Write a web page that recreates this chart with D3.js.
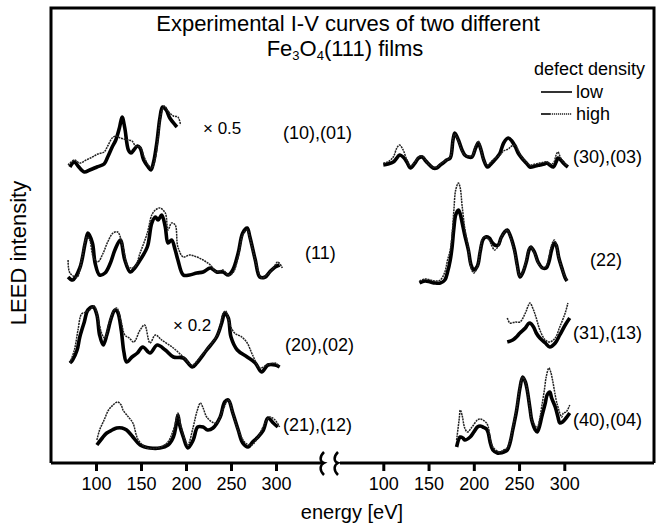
<!DOCTYPE html>
<html>
<head>
<meta charset="utf-8">
<script src="https://cdn.jsdelivr.net/npm/d3@7"></script>
<style>
  body { margin: 0; background: #fff; }
  text { font-family: "Liberation Sans", Arial, sans-serif; fill: #000; }
</style>
</head>
<body>
<svg id="chart" width="657" height="527"></svg>
<script>
// energies (eV) and intensities (arb. units)
// left column
const e10Low = [71,76,80,87,93,101,109,113,118,122,126,129,132,136,139,142,146,149,153,158,161,164,168,171,174,178,182,188,190];
const i10Low = [8,13,9,3,5,8,11,18,28,35,47,58,47,25,22,25,29,27,15,8,5,13,35,57,68,65,57,50,48];
const e10High = [69,76,82,89,96,102,109,113,118,122,127,131,136,140,144,149,153,158,162,166,169,172,176,180,186,191,194];
const i10High = [10,15,12,15,18,21,23,29,37,39,37,36,35,34,29,28,19,10,7,17,37,60,69,64,59,58,50];

const e11Low = [69,74,82,88,91,96,99,104,110,116,121,127,132,138,143,149,157,162,166,169,173,177,180,184,188,191,197,204,212,219,227,234,241,247,252,258,263,268,271,277,282,288,293,299,304];
const i11Low = [5,2,14,39,49,39,19,7,9,19,32,42,22,10,14,22,35,59,65,62,67,55,39,42,32,22,7,7,9,10,14,10,10,7,12,29,49,54,45,22,5,5,10,15,17];
const e11High = [69,71,79,84,90,93,97,102,108,113,119,124,130,136,143,149,157,162,166,171,177,180,184,188,191,197,204,212,219,227,234,241,247,252,258,263,268,271,279,284,290,297,302,307];
const i11High = [22,9,5,22,45,42,25,20,29,40,49,50,35,15,15,29,49,67,72,74,69,52,59,57,35,25,27,25,22,17,10,12,7,9,25,47,52,44,15,4,7,14,20,14];

const e20Low = [71,74,79,82,87,91,97,101,104,108,112,117,121,124,128,131,134,140,146,152,160,168,177,186,197,207,212,223,234,240,243,247,250,257,268,277,284,291,299,304];
const i20Low = [9,12,22,35,50,62,65,57,37,27,37,54,62,60,42,20,10,15,19,25,19,27,22,15,14,5,9,22,35,50,59,54,35,22,15,9,0,7,7,5];
const e20High = [71,76,80,84,89,93,98,102,107,110,114,119,123,128,132,137,142,149,154,160,166,173,186,197,207,216,227,236,241,244,249,254,262,268,274,282,290,299,304];
const i20High = [9,22,42,58,60,62,66,54,37,34,47,60,64,50,37,34,30,42,47,29,37,32,24,15,7,15,27,39,58,61,47,39,35,29,17,4,7,9,5];

const e21Low = [101,107,112,118,123,129,134,141,149,160,171,180,186,189,191,193,197,202,208,213,219,224,230,238,243,247,252,258,263,269,274,280,286,291,297,302];
const i21Low = [5,12,17,20,22,22,20,13,5,2,2,5,13,25,35,25,13,2,10,23,23,20,22,33,48,50,37,20,7,3,8,13,20,32,27,23];
const e21High = [101,104,109,114,119,124,128,130,136,141,147,157,168,179,186,189,191,194,199,202,208,212,216,219,223,229,234,241,247,252,258,266,273,280,288,293,299,304];
const i21High = [10,20,30,40,45,48,45,40,33,27,10,2,2,7,20,30,37,25,10,5,23,38,47,42,33,28,27,40,50,37,20,7,5,13,27,33,30,23];

// right column
const e30Low = [100,105,111,115,118,123,126,130,135,139,143,146,149,155,159,163,166,170,174,177,179,183,187,190,194,198,202,205,208,211,215,218,221,226,229,233,238,242,246,249,253,258,262,268,273,278,281,284,288,291,293,296,300,304];
const i30Low = [5,6,8,12,15,12,8,2,7,12,13,10,7,2,2,5,7,10,12,30,37,30,20,15,13,13,22,27,20,10,3,5,8,13,17,27,32,29,23,17,12,7,3,4,5,6,7,5,3,8,12,10,6,3];
const e30High = [100,105,111,115,118,122,126,130,135,139,143,146,149,155,159,163,166,170,174,177,179,183,187,190,194,198,202,205,208,211,215,218,221,226,229,233,238,242,246,249,253,258,262,268,273,278,281,284,288,291,293,296,300,304];
const i30High = [7,8,13,22,25,20,10,4,8,13,14,11,7,3,3,6,8,10,13,31,36,29,19,15,14,14,24,29,20,10,5,7,10,13,15,19,21,24,25,20,13,8,5,6,7,8,8,6,7,15,18,12,7,4];

const e22Low = [140,146,152,157,163,168,171,174,176,178,180,183,185,187,190,194,197,200,204,207,210,213,217,220,223,227,230,234,237,240,245,248,251,254,258,261,263,267,271,276,280,283,286,289,291,294,298,301,303];
const i22Low = [2,4,3,2,2,5,13,25,38,57,70,75,71,63,50,35,20,15,19,33,45,48,47,43,40,40,47,53,55,50,35,20,8,12,23,35,38,33,23,17,17,23,35,42,40,27,15,7,4];
const e22High = [140,146,152,157,163,168,171,174,176,178,180,183,185,187,190,194,197,200,204,207,210,213,217,220,223,227,230,234,237,240,245,248,251,254,258,261,263,267,271,276,280,283,286,289,291,294,298,301,303];
const i22High = [4,6,5,4,5,13,25,35,50,75,95,102,97,80,57,37,17,12,18,35,47,48,45,39,35,39,47,53,55,49,33,18,9,13,25,36,38,32,22,17,19,28,40,45,41,27,15,8,5];

const e31Low = [237,243,247,251,257,260,262,266,269,273,279,284,290,295,301,306];
const i31Low = [8,10,13,17,22,26,27,23,17,12,7,3,7,15,25,32];
const e31High = [237,240,246,251,257,260,262,266,269,273,279,284,290,295,301,304];
const i31High = [32,27,28,28,37,44,47,40,32,20,10,8,12,23,37,47];

const e40Low = [181,185,188,190,196,200,204,207,210,214,216,218,221,226,229,233,237,240,243,247,249,251,254,257,259,262,264,268,270,273,275,279,281,284,286,290,293,295,298,302,306];
const i40Low = [8,18,17,15,18,23,28,29,28,26,22,13,5,2,2,3,5,12,25,43,55,67,78,73,65,47,35,25,23,30,38,52,60,63,57,48,38,32,33,37,42];
const e40High = [181,184,185,187,190,193,198,204,207,210,214,216,218,221,226,229,233,237,240,243,247,249,251,254,257,259,262,264,268,270,273,275,278,280,283,285,287,291,293,297,299,302,306];
const i40High = [15,37,45,40,27,23,28,35,36,35,32,28,17,8,4,3,5,7,14,27,45,57,68,78,73,65,47,35,29,27,37,48,65,78,87,83,75,55,48,38,42,43,50];

const labels = ["(10),(01)", "(11)", "(20),(02)", "(21),(12)", "(30),(03)", "(22)", "(31),(13)", "(40),(04)"];
const offsets = [288, 181, 91, 13, 293, 178, 113, 8];
const tickValues = [100, 150, 200, 250, 300];

const svg = d3.select("#chart");

const xLeft = d3.scaleLinear().domain([100, 300]).range([96, 276]);
const xRight = d3.scaleLinear().domain([100, 300]).range([383.3, 564.3]);
const yScale = d3.scaleLinear().domain([0, 455]).range([463, 8]);

const panels = [
    {x: xLeft, eL: e10Low, iL: i10Low, eH: e10High, iH: i10High},
    {x: xLeft, eL: e11Low, iL: i11Low, eH: e11High, iH: i11High},
    {x: xLeft, eL: e20Low, iL: i20Low, eH: e20High, iH: i20High},
    {x: xLeft, eL: e21Low, iL: i21Low, eH: e21High, iH: i21High},
    {x: xRight, eL: e30Low, iL: i30Low, eH: e30High, iH: i30High},
    {x: xRight, eL: e22Low, iL: i22Low, eH: e22High, iH: i22High},
    {x: xRight, eL: e31Low, iL: i31Low, eH: e31High, iH: i31High},
    {x: xRight, eL: e40Low, iL: i40Low, eH: e40High, iH: i40High}
];

// frame (left, top, right) + broken bottom axis
svg.append("path")
    .attr("d", "M51,463 L51,8 L654,8 L654,463")
    .attr("fill", "none")
    .attr("stroke", "#000")
    .attr("stroke-width", 3);

svg.append("line").attr("x1", 51).attr("x2", 322).attr("y1", 463).attr("y2", 463)
    .attr("stroke", "#000").attr("stroke-width", 3);
svg.append("line").attr("x1", 340).attr("x2", 654).attr("y1", 463).attr("y2", 463)
    .attr("stroke", "#000").attr("stroke-width", 3);

// break marks
[323, 337].forEach(function (bx) {
    svg.append("path")
        .attr("d", "M" + (bx + 1) + ",452 C" + (bx - 4) + ",457 " + (bx - 3) + ",462 " + (bx + 1) + ",463 C" + (bx - 3) + ",465 " + (bx - 4) + ",470 " + (bx + 1) + ",475")
        .attr("fill", "none")
        .attr("stroke", "#000")
        .attr("stroke-width", 2.5);
});

// axes
[xLeft, xRight].forEach(function (sc) {
    const g = svg.append("g")
        .attr("transform", "translate(0,463)")
        .call(d3.axisBottom(sc).tickValues(tickValues).tickSize(8).tickSizeOuter(0).tickPadding(6));
    g.select(".domain").remove();
    g.selectAll("line").attr("stroke", "#000").attr("stroke-width", 3);
    g.selectAll("text")
        .attr("font-family", "Liberation Sans, Arial, sans-serif")
        .attr("font-size", 18);
});

// curves
panels.forEach(function (p, k) {
    const line = d3.line()
        .x(d => p.x(d[0]))
        .y(d => yScale(offsets[k] + d[1]))
        .curve(d3.curveCatmullRom.alpha(0.5));

    svg.append("path")
        .datum(d3.zip(p.eL, p.iL))
        .attr("d", line)
        .attr("fill", "none")
        .attr("stroke", "#000")
        .attr("stroke-width", 3.6)
        .attr("stroke-linejoin", "round");

    svg.append("path")
        .datum(d3.zip(p.eH, p.iH))
        .attr("d", line)
        .attr("fill", "none")
        .attr("stroke", "#222")
        .attr("stroke-width", 1.5)
        .attr("stroke-dasharray", "2,0.8");
});

// panel labels
const labelPos = [[283, 139], [305, 259], [285, 351], [283, 431], [573, 163], [590, 266], [573, 339], [573, 426]];
labels.forEach(function (t, k) {
    svg.append("text")
        .attr("x", labelPos[k][0])
        .attr("y", labelPos[k][1])
        .attr("font-size", 18)
        .text(t);
});

svg.append("text").attr("x", 203).attr("y", 134).attr("font-size", 17).text("\u00d7 0.5");
svg.append("text").attr("x", 173).attr("y", 331).attr("font-size", 17).text("\u00d7 0.2");

// title
svg.append("text")
    .attr("x", 348).attr("y", 31)
    .attr("text-anchor", "middle")
    .attr("font-size", 22)
    .text("Experimental I-V curves of two different");

const t2 = svg.append("text")
    .attr("x", 345).attr("y", 56)
    .attr("text-anchor", "middle")
    .attr("font-size", 22);
t2.append("tspan").text("Fe");
t2.append("tspan").attr("font-size", 13).attr("dy", 4).text("3");
t2.append("tspan").attr("dy", -4).text("O");
t2.append("tspan").attr("font-size", 13).attr("dy", 4).text("4");
t2.append("tspan").attr("dy", -4).text("(111) films");

// legend
svg.append("text").attr("x", 645).attr("y", 75).attr("text-anchor", "end")
    .attr("font-size", 18).text("defect density");
svg.append("line").attr("x1", 541).attr("x2", 572).attr("y1", 92).attr("y2", 92)
    .attr("stroke", "#000").attr("stroke-width", 1.6);
svg.append("text").attr("x", 576).attr("y", 98).attr("font-size", 18).text("low");
svg.append("line").attr("x1", 541).attr("x2", 550).attr("y1", 114).attr("y2", 114)
    .attr("stroke", "#000").attr("stroke-width", 1.6);
svg.append("line").attr("x1", 550).attr("x2", 572).attr("y1", 114).attr("y2", 114)
    .attr("stroke", "#222").attr("stroke-width", 1.4).attr("stroke-dasharray", "1.2,0.8");
svg.append("text").attr("x", 576).attr("y", 120).attr("font-size", 18).text("high");

// axis titles
svg.append("text")
    .attr("x", 352).attr("y", 519)
    .attr("text-anchor", "middle")
    .attr("font-size", 20)
    .text("energy [eV]");

svg.append("text")
    .attr("transform", "translate(26,253) rotate(-90)")
    .attr("text-anchor", "middle")
    .attr("font-size", 22)
    .text("LEED intensity");
</script>
</body>
</html>
